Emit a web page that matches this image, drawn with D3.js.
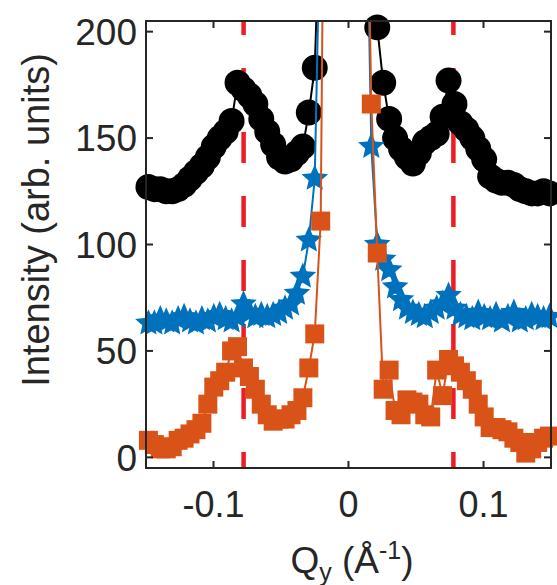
<!DOCTYPE html>
<html>
<head>
<meta charset="utf-8">
<script src="https://cdn.jsdelivr.net/npm/d3@7"></script>
<style>
  body { margin: 0; background: #fff; }
  text { font-family: "Liberation Sans", Arial, sans-serif; fill: #262626; }
</style>
</head>
<body>
<div id="chart"></div>
<script>
// Q_y grid (1/Angstrom), left and right of the specular rod
const qValues = [
  -0.1482, -0.1438, -0.1394, -0.1350, -0.1306, -0.1262, -0.1218, -0.1174, -0.1130, -0.1086,
  -0.1042, -0.0998, -0.0954, -0.0910, -0.0866, -0.0822, -0.0778, -0.0734, -0.0690, -0.0646,
  -0.0602, -0.0558, -0.0514, -0.0470, -0.0426, -0.0382, -0.0338, -0.0294, -0.0250, -0.0206,
  -0.0162,
  0.0125, 0.0169, 0.0213, 0.0257, 0.0301, 0.0345, 0.0389, 0.0433, 0.0477, 0.0521,
  0.0565, 0.0609, 0.0653, 0.0697, 0.0741, 0.0785, 0.0829, 0.0873, 0.0917, 0.0961,
  0.1005, 0.1049, 0.1093, 0.1137, 0.1181, 0.1225, 0.1269, 0.1313, 0.1357, 0.1401,
  0.1445, 0.1489
];

const blackSeries = [
  127, 126, 126, 125, 125, 126, 128, 131, 134, 137,
  141, 146, 150, 153, 158, 176, 173, 170, 166, 159,
  153, 147, 141, 139, 140, 143, 146, 162, 183, 270,
  500,
  500, 300, 202, 176, 159, 150, 145, 141, 138, 143,
  148, 150, 152, 160, 177, 166, 157, 154, 150, 145,
  140, 132, 130, 129, 129, 128, 126, 125, 124, 124,
  125, 124
];

const blueSeries = [
  63, 63, 65, 64, 63, 65, 66, 64, 63, 65,
  64, 66, 67, 65, 64, 66, 72, 68, 66, 67,
  66, 67, 68, 70, 72, 77, 85, 102, 131, 268,
  500,
  300, 146, 100, 93, 88, 80, 74, 70, 68, 67,
  66, 68, 70, 72, 76, 70, 67, 66, 65, 68,
  66, 65, 67, 64, 66, 68, 64, 65, 67, 66,
  65, 66
];

const orangeSeries = [
  8, 6, 4, 4, 5, 8, 9, 11, 13, 16,
  25, 33, 36, 40, 50, 52, 42, 38, 32, 25,
  20, 17, 18, 18, 20, 22, 28, 42, 58, 111,
  440,
  330, 166, 96, 32, 41, 22, 20, 27, 26, 25,
  20, 19, 41, 29, 46, 43, 40, 36, 32, 25,
  19, 14, 14, 13, 12, 9, 7, 2, 4, 7,
  9, 10
];

const peakLines = [-0.0777, 0.0777];
const xTicks = [-0.1, 0, 0.1];
const xTickLabels = ["-0.1", "0", "0.1"];
const yTicks = [0, 50, 100, 150, 200];

const W = 557, H = 585;
const margin = { top: 21, right: 6, bottom: 117, left: 146 };
const width = W - margin.left - margin.right;
const height = H - margin.top - margin.bottom;

const svg = d3.select("#chart")
  .append("svg")
  .attr("width", W)
  .attr("height", H);

const g = svg.append("g")
  .attr("transform", `translate(${margin.left},${margin.top})`);

const x = d3.scaleLinear().domain([-0.15, 0.15]).range([0, width]);
const y = d3.scaleLinear().domain([-5, 205]).range([height, 0]);

g.append("clipPath").attr("id", "plotClip")
  .append("rect").attr("width", width).attr("height", height);

// chunky pentagram like matlab's 'p' marker; size = outer radius
const pentagram = {
  draw(ctx, R) {
    const r = R * 0.46;
    for (let i = 0; i < 10; i++) {
      const a = -Math.PI / 2 + i * Math.PI / 5;
      const rr = i % 2 === 0 ? R : r;
      if (i === 0) ctx.moveTo(rr * Math.cos(a), rr * Math.sin(a));
      else ctx.lineTo(rr * Math.cos(a), rr * Math.sin(a));
    }
    ctx.closePath();
  }
};

// dashed peak markers
g.append("g").attr("clip-path", "url(#plotClip)")
  .selectAll("line")
  .data(peakLines)
  .join("line")
  .attr("x1", d => x(d)).attr("x2", d => x(d))
  .attr("y1", 0).attr("y2", height)
  .attr("stroke", "#ee1c25")
  .attr("stroke-width", 4.5)
  .attr("stroke-dasharray", "31,33")
  .attr("stroke-dashoffset", 17);

const series = [
  { values: blackSeries, color: "#000000", symbol: d3.symbolCircle, size: 530 },
  { values: blueSeries, color: "#0072BD", symbol: pentagram, size: 14 },
  { values: orangeSeries, color: "#D95319", symbol: d3.symbolSquare, size: 361 }
];

const line = d3.line().x(d => x(d.q)).y(d => y(d.v));

series.forEach(s => {
  const pts = qValues.map((q, i) => ({ q, v: s.values[i] }));
  g.append("path")
    .datum(pts)
    .attr("clip-path", "url(#plotClip)")
    .attr("fill", "none")
    .attr("stroke", s.color)
    .attr("stroke-width", 2)
    .attr("d", line);
  g.append("g")
    .selectAll("path")
    .data(pts.filter(p => p.v <= 205))
    .join("path")
    .attr("transform", p => `translate(${x(p.q)},${y(p.v)})`)
    .attr("d", d3.symbol().type(s.symbol).size(s.size))
    .attr("fill", s.color);
});

// axes box with inward ticks on all sides
const axisColor = "#262626";
const tickLen = 7;
g.append("rect")
  .attr("width", width).attr("height", height)
  .attr("fill", "none").attr("stroke", axisColor).attr("stroke-width", 2);

const ticks = g.append("g").attr("stroke", axisColor).attr("stroke-width", 2);
xTicks.forEach(t => {
  ticks.append("line").attr("x1", x(t)).attr("x2", x(t)).attr("y1", height).attr("y2", height - tickLen);
  ticks.append("line").attr("x1", x(t)).attr("x2", x(t)).attr("y1", 0).attr("y2", tickLen);
});
yTicks.forEach(t => {
  ticks.append("line").attr("x1", 0).attr("x2", tickLen).attr("y1", y(t)).attr("y2", y(t));
  ticks.append("line").attr("x1", width).attr("x2", width - tickLen).attr("y1", y(t)).attr("y2", y(t));
});

g.append("g").selectAll("text")
  .data(xTicks)
  .join("text")
  .attr("x", d => x(d))
  .attr("y", height + 49)
  .attr("text-anchor", "middle")
  .style("font-size", "36px")
  .text((d, i) => xTickLabels[i]);

g.append("g").selectAll("text")
  .data(yTicks)
  .join("text")
  .attr("x", -9)
  .attr("y", d => y(d))
  .attr("dy", "0.36em")
  .attr("text-anchor", "end")
  .style("font-size", "37px")
  .text(d => d);

// axis titles
const xl = svg.append("text")
  .attr("x", 352)
  .attr("y", 573)
  .attr("text-anchor", "middle")
  .style("font-size", "37px");
xl.append("tspan").text("Q");
xl.append("tspan").attr("dy", 8).style("font-size", "25px").text("y");
xl.append("tspan").attr("dy", -8).text(" (Å");
xl.append("tspan").attr("dy", -14).style("font-size", "25px").text("-1");
xl.append("tspan").attr("dy", 14).text(")");

svg.append("text")
  .attr("transform", "translate(49,220) rotate(-90)")
  .attr("text-anchor", "middle")
  .style("font-size", "38px")
  .text("Intensity (arb. units)");
</script>
</body>
</html>
